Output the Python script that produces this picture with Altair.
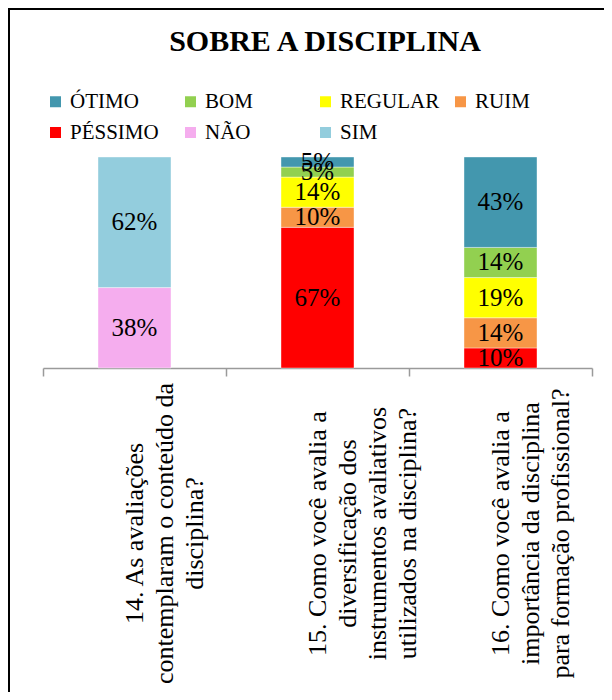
import altair as alt
import pandas as pd

TITLE = "SOBRE A DISCIPLINA"

QUESTIONS = [
    "14. As avaliações|contemplaram o conteúdo da|disciplina?",
    "15. Como você avalia a|diversificação dos|instrumentos avaliativos|utilizados na disciplina?",
    "16. Como você avalia a|importância da disciplina|para formação profissional?",
]

# legend order
CATEGORIES = ["ÓTIMO", "BOM", "REGULAR", "RUIM", "PÉSSIMO", "NÃO", "SIM"]
COLORS = ["#4397AE", "#92D050", "#FFFF00", "#F79646", "#FF0000", "#F5ADEE", "#93CDDD"]

# stacking order, bottom first
Q14_CATS = ["NÃO", "SIM"]
Q14_VALS = [38.1, 61.9]
Q15_CATS = ["PÉSSIMO", "RUIM", "REGULAR", "BOM", "ÓTIMO"]
Q15_VALS = [66.67, 9.52, 14.29, 4.76, 4.76]
Q16_CATS = ["PÉSSIMO", "RUIM", "REGULAR", "BOM", "ÓTIMO"]
Q16_VALS = [9.52, 14.29, 19.05, 14.29, 42.86]

rows = []
for q, cats, vals in [(QUESTIONS[0], Q14_CATS, Q14_VALS),
                      (QUESTIONS[1], Q15_CATS, Q15_VALS),
                      (QUESTIONS[2], Q16_CATS, Q16_VALS)]:
    for i, (c, v) in enumerate(zip(cats, vals)):
        rows.append({"q": q, "cat": c, "v": v, "ord": i})
df = pd.DataFrame(rows)

SERIF = "Liberation Serif"

base = alt.Chart(df).transform_stack(
    stack="v", groupby=["q"], sort=[alt.SortField("ord", order="ascending")], as_=["y0", "y1"]
).transform_calculate(
    mid="(datum.y0 + datum.y1) / 2",
    label="format(datum.v / 100, '.0%')",
)

x_scale = alt.Scale(paddingInner=0, paddingOuter=0)

x_enc = alt.X(
    "q:N",
    sort=QUESTIONS,
    scale=x_scale,
    axis=alt.Axis(
        title=None,
        labelExpr="split(datum.label, '|')",
        labelAngle=-90,
        labelAlign="center",
        labelBaseline="middle",
        labelFont=SERIF,
        labelFontSize=26,
        labelLineHeight=30,
        labelColor="black",
        labelPadding=157,
        labelLimit=400,
        labelOverlap=False,
        tickBand="extent",
        tickSize=8,
        tickColor="#9a9a9a",
        tickWidth=1.5,
        domainColor="#9a9a9a",
        domainWidth=1.5,
    ),
)

y_scale = alt.Scale(domain=[0, 100], nice=False, zero=True)

bars = base.mark_bar(stroke="white", strokeWidth=0.4, width=73).encode(
    x=x_enc,
    y=alt.Y("y0:Q", scale=y_scale, axis=None),
    y2="y1:Q",
    color=alt.Color(
        "cat:N",
        scale=alt.Scale(domain=CATEGORIES, range=COLORS),
        legend=alt.Legend(
            title=None,
            orient="none",
            legendX=2,
            legendY=-66,
            direction="horizontal",
            columns=4,
            gridAlign="all",
            columnPadding=10,
            rowPadding=9,
            symbolType="square",
            symbolSize=121,
            symbolStrokeWidth=0,
            labelOffset=4,
            labelFont=SERIF,
            labelFontSize=21,
            labelColor="black",
            padding=0,
        ),
    ),
)

texts = base.mark_text(font=SERIF, fontSize=25, color="black", baseline="middle", align="center").encode(
    x=alt.X("q:N", sort=QUESTIONS, scale=x_scale),
    y=alt.Y("mid:Q", scale=y_scale),
    text="label:N",
)

title_df = pd.DataFrame({"t": [TITLE]})
title = alt.Chart(title_df).mark_text(
    font=SERIF, fontSize=30, fontWeight="bold", color="black", align="center", baseline="alphabetic"
).encode(x=alt.value(282), y=alt.value(-106), text="t:N")

border = alt.Chart(title_df).mark_rect(fill="transparent", stroke="black", strokeWidth=2).encode(
    x=alt.value(-34), x2=alt.value(800), y=alt.value(-148), y2=alt.value(900)
)

chart = alt.layer(border, bars, texts, title).properties(
    width=549,
    height=211,
    autosize=alt.AutoSizeParams(type="none"),
    padding={"left": 35, "top": 149, "right": 12, "bottom": 324},
    background="white",
).configure(
    font=SERIF
).configure_axis(
    labelFont=SERIF
).configure_legend(
    labelFont=SERIF
).configure_view(stroke=None)

chart.save("out.html", embed_options={"renderer": "svg", "actions": False})
